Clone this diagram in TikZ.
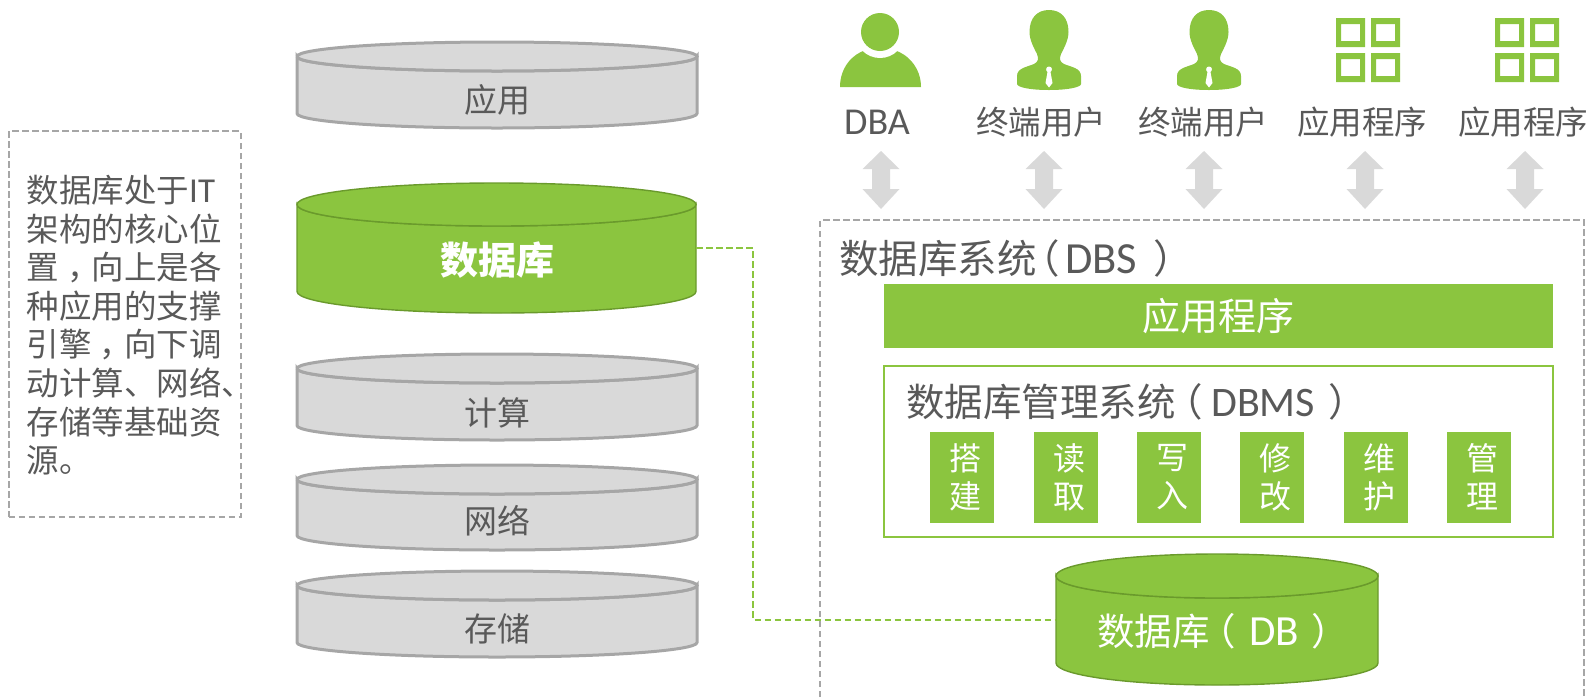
\documentclass[tikz,border=0pt]{standalone}
\usepackage{fontspec}
\setmainfont{Noto Sans CJK SC}
\newfontfamily\latfont{Carlito}
\definecolor{lime}{HTML}{8BC53F}
\definecolor{limedark}{HTML}{6A9A2C}
\definecolor{txt}{HTML}{595959}
\definecolor{cylgrey}{HTML}{D9D9D9}
\definecolor{cylline}{HTML}{A6A6A6}
\definecolor{arrowgrey}{HTML}{D9D9D9}
\newcommand{\fs}[1]{\fontsize{#1}{#1}\selectfont}
\newcommand{\fl}[2]{\fontsize{#1}{#2}\selectfont}
\newcommand{\lat}[2]{{\latfont\fontsize{#1}{#1}\selectfont #2}}
\newcommand{\optext}[2]{\hspace*{6pt}\raisebox{-5pt}{#1}\\\hspace*{6pt}\raisebox{-5pt}{#2}}
\newcommand{\midcomma}{\hspace{8pt}，\hspace{-8pt}}
% #1 name, #2 x-left, #3 x-right, #4 top, #5 bottom, #6 ry, #7 style
\newcommand{\cylbody}[7]{%
  \draw[#7] (#2,#4+#6) arc[start angle=180,end angle=360,x radius={(#3-#2)/2},y radius=-#6]
     -- (#3,#5-#6) arc[start angle=0,end angle=-180,x radius={(#3-#2)/2},y radius=-#6] -- cycle;
  \draw[#7] (#2,#4+#6) arc[start angle=180,end angle=-180,x radius={(#3-#2)/2},y radius=#6];
  \node[ghost,minimum width={(#3-#2)*1pt},minimum height={(#5-#4)*1pt}] (#1) at ({(#2+#3)/2},{(#4+#5)/2}) {};
}
\tikzset{
  ghost/.style={rectangle,draw=none,fill=none,inner sep=0pt,outer sep=0pt},
  greycyl/.style={fill=cylgrey,draw=cylline,line width=3pt},
  greencyl/.style={fill=lime,draw=limedark,line width=1.4pt},
  dashline/.style={line width=2pt,dash pattern=on 6.5pt off 3.5pt},
  lbl/.style={inner sep=0pt,text=txt,font=\fs{33}},
  toplbl/.style={inner sep=0pt,text=txt,font=\fs{32.5}},
  head/.style={inner sep=0pt,text=txt,anchor=west},
  opbox/.style={rectangle,fill=lime,minimum width=64pt,minimum height=91pt,inner sep=0pt,text=white,align=center,font=\fl{32}{38}},
  dblarrow/.pic={\fill[arrowgrey] (0,-29) -- (18.5,-11) -- (9,-11) -- (9,9) -- (18.5,9) -- (0,29) -- (-18.5,9) -- (-9,9) -- (-9,-11) -- (-18.5,-11) -- cycle;},
  apps/.pic={
    \foreach \cx/\cy in {0/0,35/0,0/35,35/35}{
      \fill[lime,even odd rule] (\cx,\cy) rectangle ++(29,29) (\cx+5,\cy+6) rectangle ++(19,17);
    }},
  suit/.pic={
    \fill[lime] (0,0) .. controls (-12,0) and (-19.5,8) .. (-19.5,22) .. controls (-19.5,30) and (-15,38) .. (-12,44)
      .. controls (-10,49) and (-11,52) .. (-15,54) .. controls (-22,57) and (-32,58) .. (-32,66)
      -- (-32,74) .. controls (-32,77) and (-20,80) .. (0,80) .. controls (20,80) and (32,77) .. (32,74)
      -- (32,66) .. controls (32,58) and (22,57) .. (15,54) .. controls (11,52) and (10,49) .. (12,44)
      .. controls (15,38) and (19.5,30) .. (19.5,22) .. controls (19.5,8) and (12,0) .. (0,0) -- cycle;
    \fill[white] (0,56.5) .. controls (-3.5,56.5) and (-3.5,61) .. (-1.5,62) -- (-3.5,73) -- (0,77.5) -- (3.5,73) -- (1.5,62) .. controls (3.5,61) and (3.5,56.5) .. (0,56.5) -- cycle;
  },
  person/.pic={
    \fill[lime] (-40,87) .. controls (-40,68) and (-28,54) .. (-14,50) -- (14,50) .. controls (28,54) and (41,68) .. (41,87) -- cycle;
    \fill[white] (0,33) circle[radius=25];
    \fill[lime] (0,32) circle[radius=19];
  },
}
\begin{document}
\begin{tikzpicture}[x=1pt,y=-1pt]
\useasboundingbox (0,0) rectangle (1589,697);
% left note
\node[rectangle,draw=cylline,dashline,minimum width=232pt,minimum height=386pt,inner sep=0pt] (note) at (124.5,324) {};
\node[inner sep=0pt,anchor=north west,text=txt,align=left,font=\fl{32.5}{38.6}] (notetext) at (26.5,175) {数据库处于\lat{35}{IT}\\架构的核心位\\置\midcomma 向上是各\\种应用的支撑\\引擎\midcomma 向下调\\动计算、网络、\\存储等基础资\\源。};
% stack
\cylbody{app}{297}{697}{42}{128}{14.5}{greycyl}
\cylbody{dbmain}{297}{696}{183}{313}{21.5}{greencyl}
\cylbody{calc}{297}{697}{354}{440}{14.5}{greycyl}
\cylbody{net}{297}{697}{465}{550}{14.5}{greycyl}
\cylbody{store}{297}{697}{571}{657}{14.5}{greycyl}
\node[lbl] (applbl) at (497,100) {应用};
\node[inner sep=0pt,text=white,font=\fs{38}\bfseries] (dblbl) at (497,260) {数据库};
\node[lbl] (calclbl) at (497,413) {计算};
\node[lbl] (netlbl) at (497,521) {网络};
\node[lbl] (storelbl) at (497,629) {存储};
% icons
\pic at (880,0) {person};
\pic at (1049,10) {suit};
\pic at (1209,10) {suit};
\pic at (1336,18) {apps};
\pic at (1495,18) {apps};
\node[toplbl] (t1) at (877,122) {\lat{38}{DBA}};
\node[toplbl] (t2) at (1041,122) {终端用户};
\node[toplbl] (t3) at (1203,122) {终端用户};
\node[toplbl] (t4) at (1362,122) {应用程序};
\node[toplbl] (t5) at (1523,122) {应用程序};
\pic at (881,180) {dblarrow};
\pic at (1044,180) {dblarrow};
\pic at (1204,180) {dblarrow};
\pic at (1365,180) {dblarrow};
\pic at (1525,180) {dblarrow};
% DBS frame
\draw[cylline,dashline] (820,697) |- (1584,220) -- (1584,697);
\node[head,font=\fs{39.5}] (dbs) at (839,258) {数据库系统\hspace{-16pt}（\hspace{5pt}\lat{44.5}{DBS}\hspace{16pt}）};
\node[rectangle,fill=lime,minimum width=669pt,minimum height=64pt,inner sep=0pt,text=white,font=\fs{38}] (bar) at (1218.5,316) {应用程序};
\node[rectangle,draw=lime,line width=2pt,minimum width=669pt,minimum height=171pt,inner sep=0pt] (dbms) at (1218.5,451.5) {};
\node[head,font=\fs{38.5}] (dbmst) at (906,402) {数据库管理系统\hspace{-11pt}（\hspace{8pt}\lat{42}{DBMS}\hspace{13pt}）};
\node[opbox] (o1) at (962,477) {\optext{搭}{建}};
\node[opbox] (o2) at (1066,477) {\optext{读}{取}};
\node[opbox] (o3) at (1169,477) {\optext{写}{入}};
\node[opbox] (o4) at (1272,477) {\optext{修}{改}};
\node[opbox] (o5) at (1376,477) {\optext{维}{护}};
\node[opbox] (o6) at (1479,477) {\optext{管}{理}};
\cylbody{db}{1056}{1378}{554}{685}{22}{greencyl}
\node[head,text=white,font=\fs{37.5}] (dblabel) at (1097,631) {数据库\hspace{-11pt}（\hspace{13pt}\lat{43}{DB}\hspace{12pt}）};
% connector
\draw[lime,dashline] (dbmain.east) -- ++(57,0) |- (db.west);
\end{tikzpicture}
\end{document}
